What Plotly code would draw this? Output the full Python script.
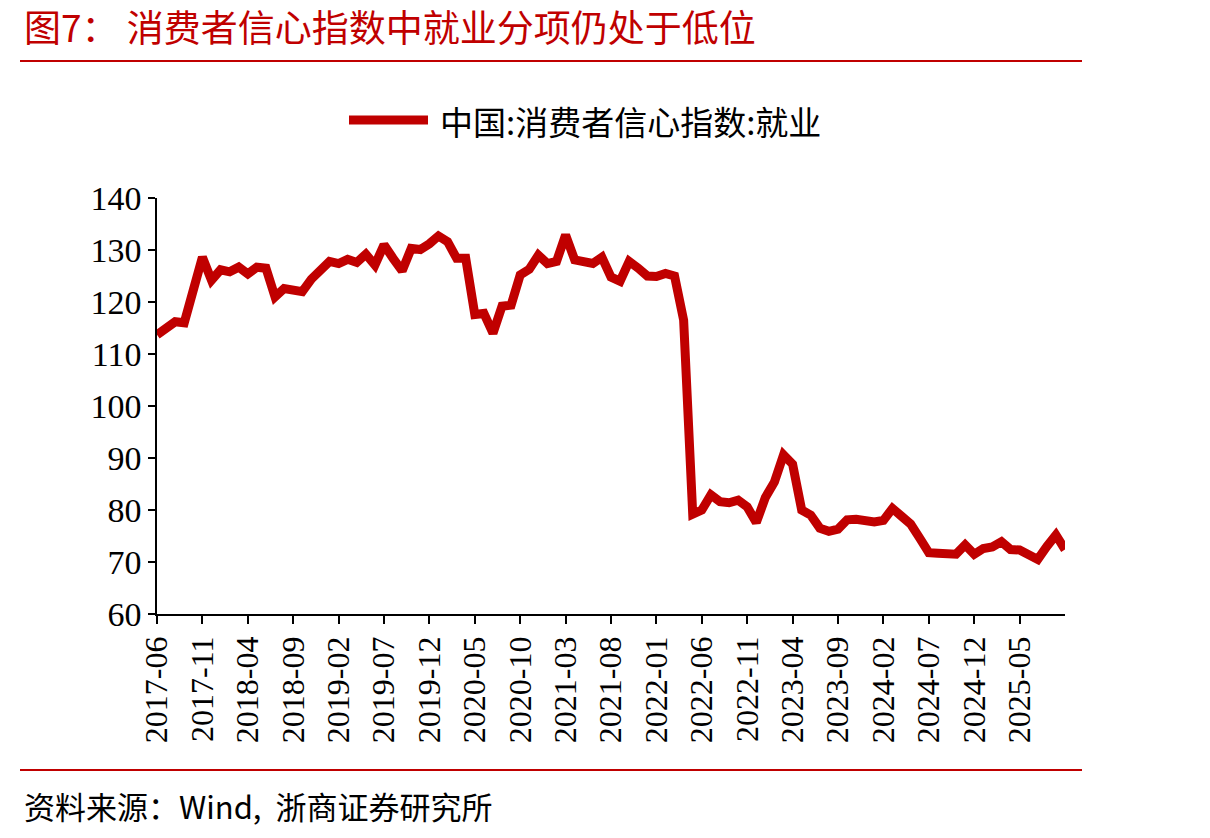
import plotly.graph_objects as go

# ---- data ----
start_year, start_month = 2017, 6
values = [
    113.7, 115.0, 116.2, 116.0, 122.3, 128.6, 124.2, 126.2, 125.8, 126.7,
    125.4, 126.7, 126.5, 121.0, 122.6, 122.3, 122.0, 124.4, 126.0, 127.8,
    127.4, 128.2, 127.6, 129.2, 127.1, 131.0, 128.4, 126.0, 130.3, 130.1,
    131.2, 132.7, 131.6, 128.4, 128.4, 117.6, 117.8, 114.0, 119.2, 119.4,
    125.2, 126.3, 129.0, 127.4, 127.8, 132.9, 128.1, 127.6, 127.4, 128.6,
    124.8, 124.0, 127.8, 126.5, 125.0, 124.9, 125.5, 125.0, 116.5, 79.2,
    80.0, 82.9, 81.6, 81.4, 81.9, 80.6, 77.6, 82.4, 85.4, 90.6,
    88.8, 80.0, 79.0, 76.5, 75.9, 76.3, 78.1, 78.2, 77.8, 77.7,
    78.0, 80.3, 78.8, 77.3, 74.6, 71.8, 71.7, 71.7, 71.5, 73.3,
    71.5, 72.6, 72.9, 73.9, 72.4, 72.3, 71.2, 70.5, 73.0, 75.2,
    72.4,
]
months = []
y, m = start_year, start_month
for _ in values:
    months.append(f"{y}-{m:02d}")
    m += 1
    if m > 12:
        m = 1
        y += 1
tick_labels = [
    "2017-06", "2017-11", "2018-04", "2018-09", "2019-02", "2019-07",
    "2019-12", "2020-05", "2020-10", "2021-03", "2021-08", "2022-01",
    "2022-06", "2022-11", "2023-04", "2023-09", "2024-02", "2024-07",
    "2024-12", "2025-05",
]
series_name = "中国:消费者信心指数:就业"
title_text = "图7： 消费者信心指数中就业分项仍处于低位"
source_text = "资料来源：Wind,  浙商证券研究所"

RED = "#C00000"
FONT = "Liberation Serif, Noto Sans CJK SC, serif"
CJK = "Noto Sans CJK SC, Liberation Serif"

W, H = 1210, 838
L, R, T, B = 157, 1065, 198, 614


def px(xp):
    return (xp - L) / (R - L)


def py(yp):
    return (B - yp) / (B - T)


fig = go.Figure()
fig.add_trace(go.Scatter(
    x=months, y=values, mode="lines", name=series_name,
    line=dict(color=RED, width=9), showlegend=False,
))

fig.update_layout(
    width=W, height=H,
    margin=dict(l=L, r=W - R, t=T, b=H - B, pad=0),
    paper_bgcolor="white", plot_bgcolor="white",
    font=dict(family=FONT, color="black"),
    xaxis=dict(
        type="category", range=[0, len(values) - 1],
        tickmode="array", tickvals=tick_labels, ticktext=tick_labels,
        tickangle=-90, tickfont=dict(family=FONT, size=32, color="black"),
        ticks="outside", ticklen=8, tickwidth=1.5, tickcolor="black",
        showline=True, linecolor="black", linewidth=1.5,
        showgrid=False, zeroline=False,
    ),
    yaxis=dict(
        range=[60, 140], dtick=10, tick0=60,
        tickfont=dict(family=FONT, size=34, color="black"),
        ticks="outside", ticklen=7, tickwidth=1.5, tickcolor="black",
        showline=True, linecolor="black", linewidth=1.5,
        showgrid=False, zeroline=False,
    ),
)

shapes = [
    dict(type="line", xref="paper", yref="paper",
         x0=px(20), x1=px(1082), y0=py(61), y1=py(61),
         line=dict(color=RED, width=2)),
    dict(type="line", xref="paper", yref="paper",
         x0=px(20), x1=px(1082), y0=py(770), y1=py(770),
         line=dict(color=RED, width=2)),
    dict(type="line", xref="paper", yref="paper",
         x0=px(349), x1=px(428), y0=py(120), y1=py(120),
         line=dict(color=RED, width=9)),
]
fig.update_layout(shapes=shapes)

fig.add_annotation(
    xref="paper", yref="paper", x=px(22), y=py(26),
    xanchor="left", yanchor="middle", showarrow=False,
    text=title_text, font=dict(family=CJK, size=37, color=RED),
)
fig.add_annotation(
    xref="paper", yref="paper", x=px(438), y=py(121),
    xanchor="left", yanchor="middle", showarrow=False,
    text=series_name, font=dict(family=CJK, size=33, color="black"),
)
fig.add_annotation(
    xref="paper", yref="paper", x=px(22), y=py(805),
    xanchor="left", yanchor="middle", showarrow=False,
    text=source_text, font=dict(family=CJK, size=31, color="black"),
)

fig.write_html("out.html")
